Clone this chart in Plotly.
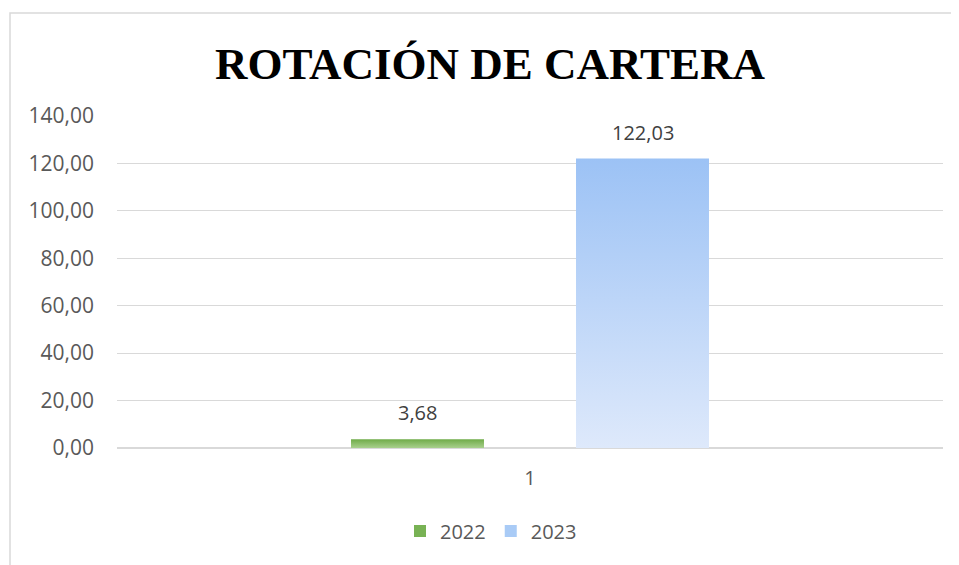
import plotly.graph_objects as go

# ---- data ----
categories = ["1"]
series_names = ["2022", "2023"]
values_2022 = [3.68]
values_2023 = [122.03]
value_labels_2022 = ["3,68"]
value_labels_2023 = ["122,03"]
y_tick_values = [0, 20, 40, 60, 80, 100, 120, 140]
y_tick_labels = ["0,00", "20,00", "40,00", "60,00", "80,00", "100,00", "120,00", "140,00"]

# ---- style ----
FONT = "'Open Sans', Calibri, Carlito, sans-serif"
TXT = "#595959"
GRID = "#D9D9D9"
styles = [
    dict(top="#6FAB48", bottom="#A8D08D", legend="#78B254", offset=-0.2167),
    dict(top="#9CC2F5", bottom="#DEE9FB", legend="#A9CBF6", offset=0.0557),
]
BAR_W = 0.161

# page body has an 8px margin: figure is 951x557, all coords shifted by -8
W, H = 951, 557
L, R, T, B = 109, 16, 108, 117
PW, PH = W - L - R, H - T - B

fig = go.Figure()
series = [(series_names[0], values_2022, value_labels_2022),
          (series_names[1], values_2023, value_labels_2023)]
for (name, vals, labs), st in zip(series, styles):
    xs, ys = [], []
    for ci, v in enumerate(vals):
        c = ci + 1
        x0 = c + st["offset"]
        x1 = x0 + BAR_W
        xs += [x0, x0, x1, x1, x0, None]
        ys += [0, v, v, 0, 0, None]
        fig.add_annotation(x=(x0 + x1) / 2, y=v, text=labs[ci], showarrow=False,
                           yanchor="bottom", yshift=11,
                           font=dict(family=FONT, size=20, color="#404040"))
    fig.add_trace(go.Scatter(
        x=xs, y=ys, name=name, mode="lines", fill="toself",
        line=dict(width=0, color=st["top"]),
        fillcolor=st["top"],
        fillgradient=dict(type="vertical",
                          colorscale=[[0, st["bottom"]], [1, st["top"]]]),
        hoverinfo="skip", showlegend=False,
    ))
    # legend entry
    fig.add_trace(go.Bar(x=[None], y=[None], name=name,
                         marker=dict(color=st["legend"], line=dict(width=0))))

fig.update_layout(
    width=W, height=H,
    margin=dict(l=L, r=R, t=T, b=B, autoexpand=False),
    paper_bgcolor="white", plot_bgcolor="white",
    title=dict(text="<b>ROTACIÓN DE CARTERA</b>", x=(490 - 8) / W, xanchor="center",
               y=1 - (63 - 8) / H, yanchor="middle",
               font=dict(family="'Times New Roman', 'Liberation Serif', serif",
                         size=45, color="black")),
    xaxis=dict(range=[0.5, 1.5], tickvals=[1], ticktext=categories,
               showgrid=False, zeroline=False, showline=False, ticks="",
               tickfont=dict(family=FONT, size=20, color=TXT), ticklabelstandoff=16),
    yaxis=dict(range=[0, 140], tickvals=y_tick_values, ticktext=y_tick_labels,
               showgrid=True, gridcolor=GRID, gridwidth=1,
               zeroline=True, zerolinecolor=GRID, zerolinewidth=1.5,
               showline=False, ticks="", ticklabelstandoff=22,
               tickfont=dict(family=FONT, size=21, color=TXT)),
    showlegend=True,
    legend=dict(orientation="h", x=(491 - 117) / PW, xanchor="center",
                y=-(531 - 448) / PH, yanchor="middle",
                font=dict(family=FONT, size=20, color=TXT),
                itemwidth=30, tracegroupgap=0),
    shapes=[dict(type="rect", xref="paper", yref="paper",
                 x0=(10 - 117) / PW, x1=(990 - 117) / PW,
                 y0=(448 - 600) / PH, y1=(448 - 13) / PH,
                 line=dict(color="#D9D9D9", width=1.5), layer="below")],
)

fig.write_html("out.html")
